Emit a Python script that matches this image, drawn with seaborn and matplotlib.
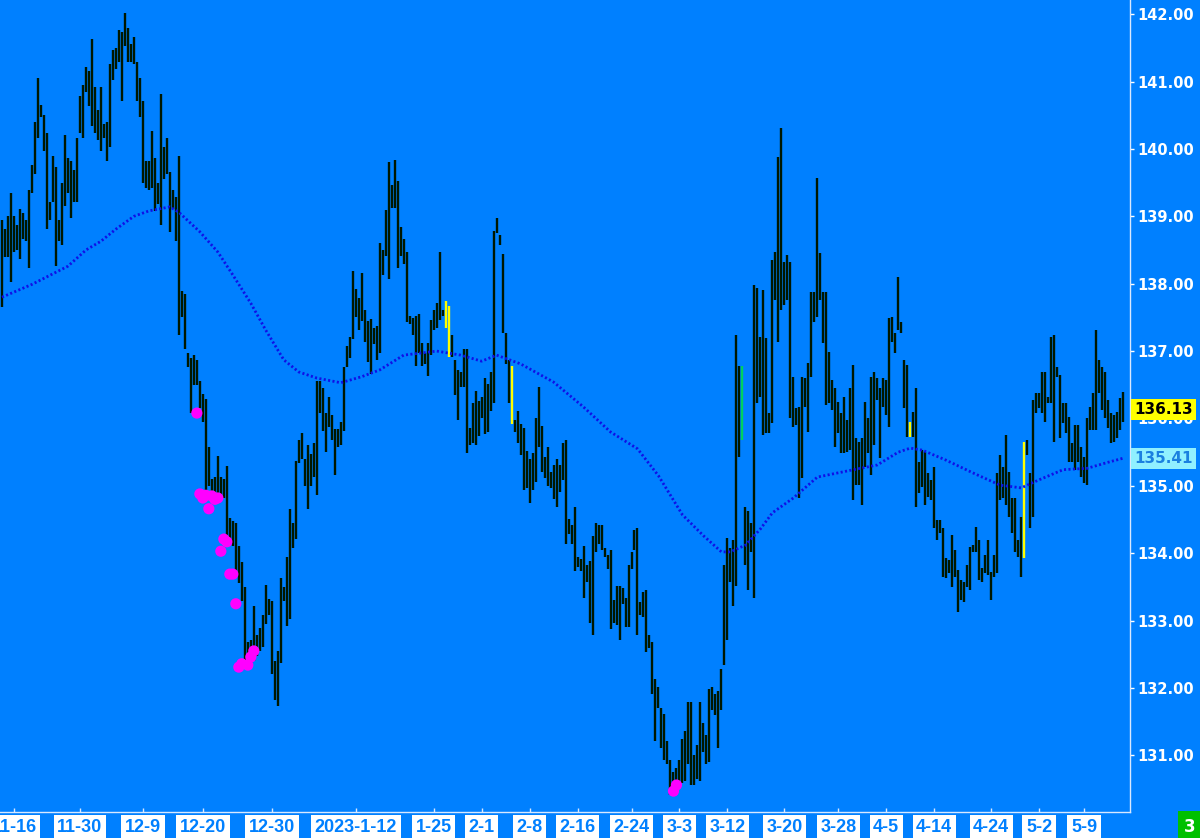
import matplotlib
matplotlib.use("Agg")
import matplotlib.pyplot as plt
import matplotlib.transforms as mtransforms
import pandas as pd
import seaborn as sns

# ---------------------------------------------------------------
# bar data (high / low per bar)
# ---------------------------------------------------------------
highs = [
    138.95, 138.81, 139.00, 139.35, 139.00, 138.87, 139.11, 139.05, 138.94, 139.39,
    139.76, 140.40, 141.05, 140.65, 140.50, 140.24, 139.21, 139.89, 139.73, 138.94,
    139.49, 140.21, 139.86, 139.82, 139.69, 140.16, 140.79, 140.95, 141.22, 141.16,
    141.63, 140.92, 140.58, 140.92, 140.37, 140.40, 141.26, 141.47, 141.50, 141.76,
    141.74, 142.02, 141.79, 141.56, 141.66, 141.29, 141.05, 140.71, 139.82, 139.82,
    140.27, 139.86, 139.49, 140.81, 140.03, 140.16, 139.66, 139.39, 139.29, 139.89,
    137.89, 137.85, 136.97, 136.90, 136.94, 136.87, 136.56, 136.36, 136.29, 135.58,
    135.10, 135.13, 135.44, 135.13, 135.10, 135.29, 134.52, 134.48, 134.45, 134.11,
    133.87, 133.50, 132.68, 132.71, 133.22, 132.79, 132.89, 133.08, 133.53, 133.32,
    133.29, 132.40, 132.55, 133.63, 133.50, 133.94, 134.66, 134.45, 135.37, 135.68,
    135.78, 135.40, 135.61, 135.47, 135.64, 136.56, 136.56, 136.45, 136.08, 136.32,
    136.05, 135.84, 135.84, 135.95, 136.76, 137.08, 137.21, 138.19, 137.92, 137.79,
    138.16, 137.61, 137.45, 137.48, 137.34, 137.37, 138.60, 138.50,
    139.09, 139.81, 139.46, 139.84, 139.52, 138.84, 138.66, 138.47, 137.52, 137.49,
    137.52, 137.55, 137.12, 136.97, 137.12, 137.46, 137.61, 137.71, 138.47, 137.61,
    137.74, 137.67, 137.24, 136.87, 136.72, 136.69, 137.03, 137.03, 135.86, 136.23,
    136.41, 136.26, 136.32, 136.60, 136.51, 136.69, 138.78, 138.97, 138.72, 138.44,
    137.27, 136.87, 136.78, 135.98, 136.11, 135.92, 135.86, 135.52, 135.40, 135.49,
    136.01, 136.47, 135.89, 135.43, 135.58, 135.21, 135.31, 135.40, 135.31, 135.64,
    135.68, 134.51, 134.42, 134.69, 133.94, 133.91, 134.11, 133.83, 133.88, 134.26,
    134.45, 134.42, 134.42, 134.08, 133.97, 134.05, 133.31, 133.51, 133.51, 133.48,
    133.34, 133.83, 134.02, 134.34, 134.37, 133.28, 133.42, 133.45, 132.79, 132.68,
    132.13, 132.01, 131.70, 131.61, 131.21, 130.93, 130.75, 130.81, 130.93, 131.24,
    131.36, 131.79, 131.79, 131.00, 131.15, 131.79, 131.48, 131.30, 131.98, 132.01,
    131.91, 131.96, 132.28, 133.83, 134.23, 134.08, 134.20, 137.24, 136.78, 136.78,
    134.69, 134.63, 134.45, 137.98,
    137.94, 137.21, 137.91, 137.19, 136.08, 138.35, 138.47, 139.88, 140.31, 138.32,
    138.43, 138.32, 136.62, 136.16, 136.17, 136.62, 136.60, 136.82, 137.88, 137.88,
    139.57, 138.46, 137.88, 137.88, 136.99, 136.57, 136.45, 136.24, 136.08, 136.32,
    135.98, 136.45, 136.79, 135.71, 135.65, 135.71, 136.24, 136.01, 136.62, 136.69,
    136.60, 136.45, 136.60, 136.57, 137.49, 137.51, 137.27, 138.10, 137.43, 136.87,
    136.79, 135.95, 136.10, 136.45, 135.35, 135.53, 135.50, 135.19, 135.09, 135.28,
    134.49, 134.49, 134.37, 133.93, 133.90, 134.27, 134.05, 133.75, 133.60, 133.57,
    133.83, 134.09, 134.12, 134.39, 134.20, 133.78, 133.97, 134.20, 133.72, 133.97,
    135.19, 135.46, 135.28, 135.75, 135.21, 134.82, 134.82, 134.20, 134.54, 135.65,
    135.68, 135.19, 136.27, 136.38, 136.38, 136.69, 136.69, 136.32, 137.21, 137.24,
    136.76, 136.65, 136.23, 136.23, 136.02, 135.64, 135.90, 135.90, 135.58, 135.43,
    136.01, 136.17, 136.38, 137.31, 136.87, 136.76, 136.69, 136.27, 136.08, 136.05,
    136.10, 136.31, 136.39,
]

lows = [
    137.65, 138.40, 138.40, 138.03, 138.47, 138.50, 138.37, 138.66, 138.63, 138.23,
    139.35, 139.63, 140.16, 140.47, 139.97, 138.81, 138.94, 139.21, 138.26, 138.63,
    138.57, 139.15, 139.35, 138.97, 139.21, 139.21, 140.24, 140.16, 140.84, 140.64,
    140.34, 140.24, 140.13, 139.97, 140.16, 139.82, 140.03, 141.02, 141.19, 141.29,
    140.71, 141.53, 141.29, 141.29, 141.26, 140.71, 140.47, 139.49, 139.42, 139.39,
    139.42, 139.08, 139.18, 138.87, 139.55, 139.63, 138.77, 139.11, 138.63, 137.24,
    137.51, 137.03, 136.76, 136.08, 136.50, 136.50, 136.16, 135.95, 134.92, 135.00,
    134.86, 134.86, 134.86, 134.82, 134.82, 134.24, 134.14, 134.11, 133.71, 133.56,
    133.29, 132.34, 132.34, 132.37, 132.40, 132.48, 132.55, 132.61, 132.95, 133.08,
    132.21, 131.82, 131.73, 132.37, 133.29, 132.92, 133.02, 134.08, 134.21, 135.34,
    135.40, 135.00, 134.66, 135.00, 135.13, 134.86, 136.08, 135.81, 135.50, 135.87,
    135.68, 135.16, 135.58, 135.61, 135.81, 136.76, 136.90, 137.18, 137.51, 137.31,
    137.45, 137.14, 136.84, 136.66, 137.10, 136.87, 136.97, 138.13,
    138.41, 138.07, 139.12, 139.12, 138.23, 138.41, 138.29, 137.43, 137.40, 137.24,
    136.78, 136.97, 136.78, 136.81, 136.63, 136.94, 137.31, 137.34, 137.46, 137.52,
    137.34, 136.91, 136.91, 136.35, 135.98, 136.47, 136.47, 135.49, 135.61, 135.64,
    135.61, 135.74, 136.01, 135.77, 135.80, 136.11, 136.23, 138.75, 138.57, 137.27,
    136.81, 136.23, 135.92, 135.80, 135.64, 135.46, 134.94, 134.97, 134.75, 134.94,
    135.06, 135.58, 135.21, 135.12, 135.00, 134.97, 134.80, 134.69, 134.91, 135.09,
    134.14, 134.29, 134.14, 133.74, 133.80, 133.74, 133.34, 133.57, 132.96, 132.79,
    134.02, 134.14, 134.05, 133.94, 133.77, 132.88, 132.96, 132.93, 132.71, 133.25,
    132.91, 132.91, 133.77, 134.05, 132.79, 133.08, 133.05, 132.53, 132.59, 131.91,
    131.21, 131.70, 131.11, 130.93, 130.87, 130.41, 130.53, 130.56, 130.56, 130.59,
    130.62, 130.87, 130.56, 130.56, 130.65, 130.62, 131.05, 130.87, 130.90, 131.67,
    131.60, 131.11, 131.67, 132.34, 132.71, 133.57, 133.22, 133.51, 135.43, 135.68,
    133.83, 133.45, 134.02, 133.34,
    136.23, 136.32, 135.75, 135.78, 135.78, 135.93, 137.76, 137.13, 137.61, 137.68,
    137.76, 136.01, 135.87, 135.90, 134.82, 135.12, 136.17, 135.80, 136.62, 137.43,
    137.51, 137.76, 137.12, 136.20, 136.23, 136.13, 135.58, 135.78, 135.49, 135.49,
    135.50, 135.53, 134.79, 135.01, 135.01, 134.72, 135.28, 135.49, 135.16, 135.61,
    136.27, 135.41, 136.17, 136.05, 135.87, 137.13, 136.97, 137.31, 137.27, 136.16,
    135.72, 135.72, 135.72, 134.69, 134.89, 134.98, 134.72, 134.83, 134.79, 134.37,
    134.20, 134.30, 133.65, 133.63, 133.71, 133.50, 133.65, 133.13, 133.31, 133.28,
    133.50, 133.45, 134.02, 134.02, 133.60, 133.57, 133.71, 133.68, 133.31, 133.65,
    133.71, 134.79, 134.82, 134.72, 134.54, 134.30, 134.02, 133.94, 133.65, 133.93,
    135.46, 134.37, 134.54, 136.08, 136.16, 136.08, 135.95, 136.23, 136.23, 135.65,
    136.62, 135.71, 135.93, 135.78, 135.35, 135.35, 135.24, 135.35, 135.13, 135.04,
    135.01, 135.83, 135.83, 135.83, 136.38, 136.13, 136.01, 135.86, 135.64, 135.65,
    135.71, 135.83, 135.95,
]

# bars drawn in a highlight colour
yellow_bars = [148, 149, 170, 303, 341]
green_bars = [247]

# moving average (sampled along the dotted line)
ma_pos = [0, 10, 22, 28, 33, 38, 44, 49, 56, 59, 66, 72, 77, 83, 88, 94, 99, 105, 113, 120,
          126, 134, 145, 153, 160, 165, 173, 184, 194, 203, 212, 219, 227, 234, 240, 243,
          248, 253, 257, 264, 272, 283, 292, 299, 303, 307, 315, 324, 333, 340, 346, 354,
          362, 369, 374]
ma_vals = [137.80, 137.99, 138.26, 138.50, 138.63, 138.81, 139.00, 139.08, 139.14, 139.06,
           138.77, 138.47, 138.13, 137.71, 137.31, 136.87, 136.69, 136.60, 136.53, 136.62,
           136.72, 136.94, 137.00, 136.94, 136.85, 136.94, 136.81, 136.54, 136.17, 135.80,
           135.55, 135.15, 134.57, 134.26, 134.02, 134.02, 134.12, 134.36, 134.60, 134.82,
           135.13, 135.23, 135.31, 135.50, 135.56, 135.53, 135.38, 135.19, 135.01, 134.97,
           135.09, 135.24, 135.26, 135.35, 135.41]

# magenta signal dots
signal_pos = [65, 66, 67, 68, 69, 70, 71, 72, 73, 74, 75, 76, 77, 78, 79, 80, 82, 83, 84, 224, 225]
signal_vals = [136.08, 134.88, 134.82, 134.86, 134.66, 134.85, 134.80, 134.82, 134.03, 134.21,
               134.17, 133.69, 133.69, 133.25, 132.31, 132.36, 132.34, 132.46, 132.55,
               130.47, 130.56]

date_ticks = [4, 26, 47, 67, 90, 118, 144, 160, 176, 192, 210, 226, 242, 261, 279, 295,
              311, 330, 346, 361]
date_labels = ["11-16", "11-30", "12-9", "12-20", "12-30", "2023-1-12", "1-25", "2-1",
               "2-8", "2-16", "2-24", "3-3", "3-12", "3-20", "3-28", "4-5", "4-14",
               "4-24", "5-2", "5-9"]
price_ticks = [131, 132, 133, 134, 135, 136, 137, 138, 139, 140, 141, 142]
last_price = 136.13
ma_last = 135.41
panel_no = "3"

# -------------------------------
# style
# -------------------------------
BG = "#0080ff"
sns.set_style("dark", {"axes.facecolor": BG, "figure.facecolor": BG})
plt.rcParams["font.family"] = ["DejaVu Sans"]

fig = plt.figure(figsize=(12, 8.38), dpi=100)
ax = fig.add_axes([0, 26 / 838, 1130 / 1200, 812 / 838])
ax.set_facecolor(BG)
ax.grid(False)

# -------------------------------
# bars
# -------------------------------
bars = pd.DataFrame({"pos": range(len(highs)), "high": highs, "low": lows})
bars["color"] = "#001800"
bars.loc[bars["pos"].isin(yellow_bars), "color"] = "#ffff00"
bars.loc[bars["pos"].isin(green_bars), "color"] = "#00d060"

ax.vlines(bars["pos"], bars["low"], bars["high"], colors=bars["color"], lw=1.7, zorder=2)

# moving average, dotted
ma = pd.DataFrame({"pos": ma_pos, "ma": ma_vals})
sns.lineplot(data=ma, x="pos", y="ma", ax=ax, color="#1010e6", lw=2.0,
             linestyle=(0, (0.75, 0.85)), zorder=3)

# signal dots
sig = pd.DataFrame({"pos": signal_pos, "val": signal_vals})
sns.scatterplot(data=sig, x="pos", y="val", ax=ax, color="#ff00ff", s=65,
                edgecolor="none", zorder=4)

ax.set_xlim(-0.67, 376.3)
ax.set_ylim(130.16, 142.21)
ax.set_xlabel("")
ax.set_ylabel("")

for side in ["left", "top"]:
    ax.spines[side].set_visible(False)
for side in ["right", "bottom"]:
    ax.spines[side].set_color("#d8e8ff")
    ax.spines[side].set_linewidth(1.0)

# y axis on the right
ax.yaxis.tick_right()
ax.set_yticks(price_ticks)
ax.set_yticklabels([f"{p:.2f}" for p in price_ticks], fontweight="bold")
ax.tick_params(axis="y", right=True, left=False, length=3, width=1, color="white",
               labelcolor="white", labelsize=10.5, pad=2)

# x axis ticks with boxed labels
ax.set_xticks(date_ticks)
ax.set_xticklabels([])
ax.tick_params(axis="x", bottom=True, direction="in", length=3, width=1, color="#d8e8ff")
xt = ax.get_xaxis_transform()
for t, lab in zip(date_ticks, date_labels):
    ax.text(t, -0.0085, lab, transform=xt, ha="center", va="top", color=BG,
            fontsize=13, fontweight="bold", family=["Liberation Sans", "DejaVu Sans"],
            clip_on=False, zorder=5,
            bbox=dict(boxstyle="square,pad=0.2", fc="white", ec="none"))

# price markers on the right
yt = mtransforms.blended_transform_factory(ax.transAxes, ax.transData)
ax.text(1 + 4 / 1130, last_price, f"{last_price:.2f}", transform=yt, ha="left",
        va="center", color="black", fontsize=11, fontweight="bold", clip_on=False,
        zorder=6, bbox=dict(boxstyle="square,pad=0.2", fc="#ffff00", ec="none"))
ax.text(1 + 4 / 1130, ma_last, f"{ma_last:.2f}", transform=yt, ha="left",
        va="center", color="#1a80e0", fontsize=11, fontweight="bold", clip_on=False,
        zorder=6, bbox=dict(boxstyle="square,pad=0.2", fc="#90f0ff", ec="none"))

fig.text(1190 / 1200, 11 / 838, panel_no, ha="center", va="center", color="white",
         fontsize=12, fontweight="bold",
         bbox=dict(boxstyle="square,pad=0.4", fc="#00c000", ec="none"))

fig.savefig("out.png", dpi=100, facecolor=BG)
